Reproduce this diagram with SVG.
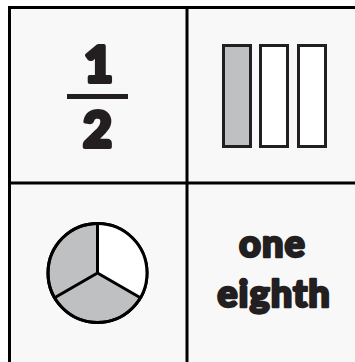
<svg xmlns="http://www.w3.org/2000/svg" width="355" height="362" viewBox="0 0 355 362">
<style>
.grid{stroke:#000;stroke-width:3;fill:none}
.t{font-family:Lato,"Open Sans","DejaVu Sans",sans-serif;font-weight:900;fill:#231f20;stroke:#231f20;stroke-linejoin:round;text-anchor:middle}
.bar{stroke:#231f20;stroke-width:3}
.pie{stroke:#000;stroke-width:3;stroke-linejoin:round}
</style>
<rect x="0" y="0" width="355" height="362" fill="#fff"/>
<rect x="9.5" y="7.5" width="346" height="355" fill="#f8f8f8"/>
<g id="grid">
<path class="grid" d="M9.5 362V7.5H355M187 7.5V362M9.5 183H355"/>
</g>
<g id="fraction">
<text class="t" x="98.5" y="81.5" font-size="50" stroke-width="4">1</text>
<rect x="67" y="94" width="61" height="5" fill="#231f20"/>
<text class="t" x="97.5" y="146.5" font-size="50" stroke-width="4">2</text>
</g>
<g id="bars">
<rect class="bar" x="223.5" y="45.5" width="27" height="101" fill="#bfc0c2"/>
<rect class="bar" x="260.5" y="45.5" width="27" height="101" fill="#fff"/>
<rect class="bar" x="298.5" y="45.5" width="27" height="101" fill="#fff"/>
</g>
<g id="pie">
<circle cx="97.5" cy="273" r="49.5" fill="#bfc0c2" class="pie"/>
<path d="M97.5 273V223.5A49.5 49.5 0 0 1 140.4 297.75Z" fill="#fff"/>
<circle cx="97.5" cy="273" r="49.5" fill="none" class="pie"/>
<path class="pie" fill="none" d="M97.5 223.5V273L140.4 297.75M97.5 273L54.6 297.75"/>
</g>
<g id="words">
<text class="t" x="272.5" y="257" font-size="38" stroke-width="2.5" letter-spacing="1">one</text>
<text class="t" x="274" y="307" font-size="38" stroke-width="2.5" letter-spacing="1">eighth</text>
</g>
</svg>
